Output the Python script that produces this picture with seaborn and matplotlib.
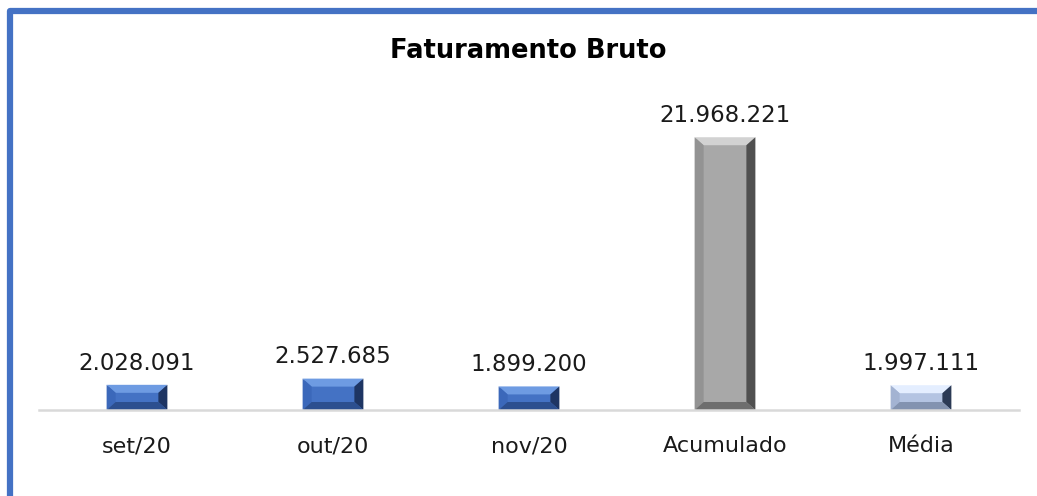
import numpy as np
import pandas as pd
import seaborn as sns
import matplotlib.pyplot as plt
from matplotlib.patches import Polygon, Rectangle

# dados
categorias = ['set/20', 'out/20', 'nov/20', 'Acumulado', 'Média']
valores = [2028091, 2527685, 1899200, 21968221, 1997111]
cores = ['#4472C4', '#4472C4', '#4472C4', '#A8A8A8', '#B4C4E2']

# bevel colors: top, left, right, bottom
bevel = {
    '#4472C4': ['#6E9BE2', '#3B68BA', '#1E3563', '#2C4F8F'],
    '#A8A8A8': ['#D2D2D2', '#939393', '#505050', '#6E6E6E'],
    '#B4C4E2': ['#E4EEFF', '#A3B3D2', '#2B3A55', '#8393B0'],
}

df = pd.DataFrame({'cat': categorias, 'valor': valores})

sns.set_style('white')
plt.rcParams['font.family'] = ['DejaVu Sans']

fig = plt.figure(figsize=(10.37, 4.96), dpi=100)
ax = fig.add_axes([39/1037, 86/496, 980/1037, 298/496])

sns.barplot(data=df, x='cat', y='valor', hue='cat', palette=dict(zip(categorias, cores)),
            legend=False, width=0.31, ax=ax, saturation=1, dodge=False)

ax.set_ylim(0, 24000000)
ax.set_xlim(-0.5, 4.5)

barras = sorted([p for p in ax.patches if p.get_height() > 0], key=lambda p: p.get_x())
rotulos = [f'{v:,}'.replace(',', '.') for v in valores]

# bevel effect on each bar
px_x = 1.0 / 196
px_y = 24000000 / 298
for p, c, lab in zip(barras, cores, rotulos):
    x, y, w, h = p.get_x(), p.get_y(), p.get_width(), p.get_height()
    bx = 9 * px_x
    by = min(8 * px_y, h / 2.6)
    t, l, r, b = bevel[c]
    x0, x1, y0, y1 = x, x + w, y, y + h
    ax.add_patch(Polygon([(x0, y1), (x1, y1), (x1 - bx, y1 - by), (x0 + bx, y1 - by)], color=t, lw=0))
    ax.add_patch(Polygon([(x0, y0), (x0 + bx, y0 + by), (x0 + bx, y1 - by), (x0, y1)], color=l, lw=0))
    ax.add_patch(Polygon([(x1, y0), (x1, y1), (x1 - bx, y1 - by), (x1 - bx, y0 + by)], color=r, lw=0))
    ax.add_patch(Polygon([(x0, y0), (x1, y0), (x1 - bx, y0 + by), (x0 + bx, y0 + by)], color=b, lw=0))
    ax.annotate(lab, (x + w / 2, y1), xytext=(0, 11), textcoords='offset points',
                ha='center', va='baseline', fontsize=16.5, color='#1a1a1a')

ax.set_xlabel('')
ax.set_ylabel('')
ax.set_yticks([])
ax.tick_params(axis='x', length=0, labelsize=16, pad=19, colors='#1a1a1a')
for s in ['top', 'left', 'right']:
    ax.spines[s].set_visible(False)
ax.spines['bottom'].set_color('#D9D9D9')
ax.spines['bottom'].set_linewidth(1.8)

fig.text(528/1037, 1 - 51/496, 'Faturamento Bruto', ha='center', va='center',
         fontsize=18.5, fontweight='bold', color='black')

# moldura azul
fig.add_artist(Rectangle((10/1037, -0.2), 1.2, 0.2 + 485/496, transform=fig.transFigure,
                         fill=False, edgecolor='#4472C4', lw=4.5, joinstyle='round'))

fig.savefig('out.png', dpi=100)
